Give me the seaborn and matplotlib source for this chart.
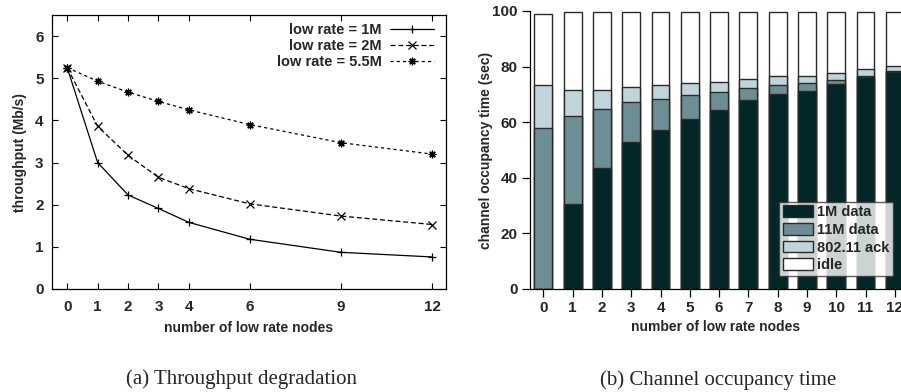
import matplotlib
matplotlib.use("Agg")
import matplotlib.pyplot as plt
import seaborn as sns
import pandas as pd
import numpy as np

# ---- data (a) ----
nodes_a = [0, 1, 2, 3, 4, 6, 9, 12]
thr_1m = [5.25, 3.00, 2.23, 1.91, 1.58, 1.18, 0.87, 0.76]
thr_2m = [5.25, 3.86, 3.17, 2.65, 2.38, 2.02, 1.73, 1.53]
thr_55m = [5.25, 4.93, 4.67, 4.45, 4.25, 3.90, 3.47, 3.20]
series_names = ["low rate = 1M", "low rate = 2M", "low rate = 5.5M"]

# ---- data (b) ----
nodes_b = list(range(13))
data_1m = [0.0, 30.5, 43.5, 52.9, 57.1, 61.3, 64.4, 67.9, 70.0, 71.3, 73.6, 76.1, 77.9]
data_11m = [58.0, 31.9, 21.4, 14.5, 11.4, 8.5, 6.3, 4.5, 3.5, 2.8, 1.5, 0.5, 0.4]
ack = [15.3, 9.3, 6.8, 5.4, 4.8, 4.2, 3.9, 3.1, 3.1, 2.6, 2.6, 2.5, 2.0]
idle = [25.7, 27.8, 27.8, 26.7, 26.2, 25.5, 24.9, 24.0, 22.9, 22.8, 21.8, 20.4, 19.2]
bar_labels = ["1M data", "11M data", "802.11 ack", "idle"]

sns.set_theme(style="white")
plt.rcParams['font.family'] = ['Liberation Sans', 'DejaVu Sans']
plt.rcParams['font.weight'] = 'bold'

fig = plt.figure(figsize=(9.01, 3.92), dpi=100)
ax1 = fig.add_axes([52/901, 1-289/392, 394/901, 274/392])
ax2 = fig.add_axes([530/901, 1-289/392, 371/901, 278/392])

# ---- left: lines ----
df = pd.DataFrame({
    "nodes": nodes_a * 3,
    "thr": thr_1m + thr_2m + thr_55m,
    "series": [series_names[0]] * len(nodes_a) + [series_names[1]] * len(nodes_a) + [series_names[2]] * len(nodes_a),
})
sns.lineplot(data=df, x="nodes", y="thr", hue="series", style="series",
             palette=["black"] * 3,
             markers={series_names[0]: "+", series_names[1]: "x", series_names[2]: (8, 2, 0)},
             dashes={series_names[0]: "", series_names[1]: (4, 2.2), series_names[2]: (2.5, 2.5)},
             markersize=5.5, linewidth=0.9, markeredgewidth=0.9, mec="black",
             ax=ax1, legend=True)
ax1.set_xlim(-0.5, 12.45)
ax1.set_ylim(0, 6.5)
ax1.set_xticks(nodes_a)
ax1.set_yticks([0, 1, 2, 3, 4, 5, 6])
ax1.tick_params(direction="in", length=4, width=0.8, color="black",
                top=True, right=True, bottom=True, left=True,
                labelsize=11, pad=6)
ax1.tick_params(axis="x", pad=8)
for s in ax1.spines.values():
    s.set_color("black"); s.set_linewidth(0.9); s.set_visible(True)
ax1.set_xlabel("number of low rate nodes", fontsize=10, fontweight="bold")
ax1.set_ylabel("throughput (Mb/s)", fontsize=10, fontweight="bold")
ax1.yaxis.set_label_coords(-0.064, 0.5)
ax1.xaxis.set_label_coords(0.5, -0.118)
for lab in ax1.get_xticklabels() + ax1.get_yticklabels():
    lab.set_fontweight("bold")
leg = ax1.legend(loc="upper right", bbox_to_anchor=(0.99, 1.0), frameon=False, markerfirst=False,
                 handlelength=3.0, handletextpad=0.6, labelspacing=0.15,
                 borderaxespad=0.2, borderpad=0.35, prop={"weight": "bold", "size": 10.5})

# ---- right: stacked bars ----
c1 = np.array(data_1m)
c2 = c1 + np.array(data_11m)
c3 = c2 + np.array(ack)
c4 = c3 + np.array(idle)
colors = ["#052628", "#6e8e95", "#c1d3db", "#ffffff"]
layers = [c4, c3, c2, c1]
layer_colors = [colors[3], colors[2], colors[1], colors[0]]
layer_labels = [bar_labels[3], bar_labels[2], bar_labels[1], bar_labels[0]]
for tops, col, lab in zip(layers, layer_colors, layer_labels):
    sns.barplot(x=nodes_b, y=tops, color=col, width=0.61, edgecolor="#2a2a2a",
                linewidth=1.0, saturation=1, ax=ax2, label=lab, order=nodes_b)
ax2.set_xlim(-0.455, 12.21)
ax2.set_ylim(0, 100)
ax2.set_yticks([0, 20, 40, 60, 80, 100])
ax2.tick_params(direction="out", length=6, width=0.9, color="black",
                bottom=True, left=True, labelsize=11, pad=3)
ax2.spines["top"].set_visible(False)
ax2.spines["right"].set_visible(False)
for side in ("left", "bottom"):
    ax2.spines[side].set_color("black"); ax2.spines[side].set_linewidth(0.9)
ax2.set_xlabel("number of low rate nodes", fontsize=10, fontweight="bold")
ax2.set_ylabel("channel occupancy time (sec)", fontsize=10, fontweight="bold")
ax2.yaxis.set_label_coords(-0.1, 0.5)
ax2.xaxis.set_label_coords(0.5, -0.113)
for lab in ax2.get_xticklabels() + ax2.get_yticklabels():
    lab.set_fontweight("bold")
h, l = ax2.get_legend_handles_labels()
order = [l.index(n) for n in bar_labels]
leg2 = ax2.legend([h[i] for i in order], [l[i] for i in order],
                  loc="lower right", bbox_to_anchor=(0.978, 0.047), frameon=True, fancybox=False,
                  prop={"weight": "bold", "size": 10.5}, handlelength=2.1, handleheight=0.85,
                  handletextpad=0.25, labelspacing=0.25, borderpad=0.25, borderaxespad=0.0)
leg2.get_frame().set_edgecolor("#333333")
leg2.get_frame().set_linewidth(1.0)

# ---- captions ----
fig.text(242/901, 1-379/392, "(a) Throughput degradation", ha="center", va="center",
         family=["Liberation Serif", "DejaVu Serif"], fontweight="normal", fontsize=15)
fig.text(718/901, 1-380/392, "(b) Channel occupancy time", ha="center", va="center",
         family=["Liberation Serif", "DejaVu Serif"], fontweight="normal", fontsize=15)

fig.savefig("out.png", dpi=100)
